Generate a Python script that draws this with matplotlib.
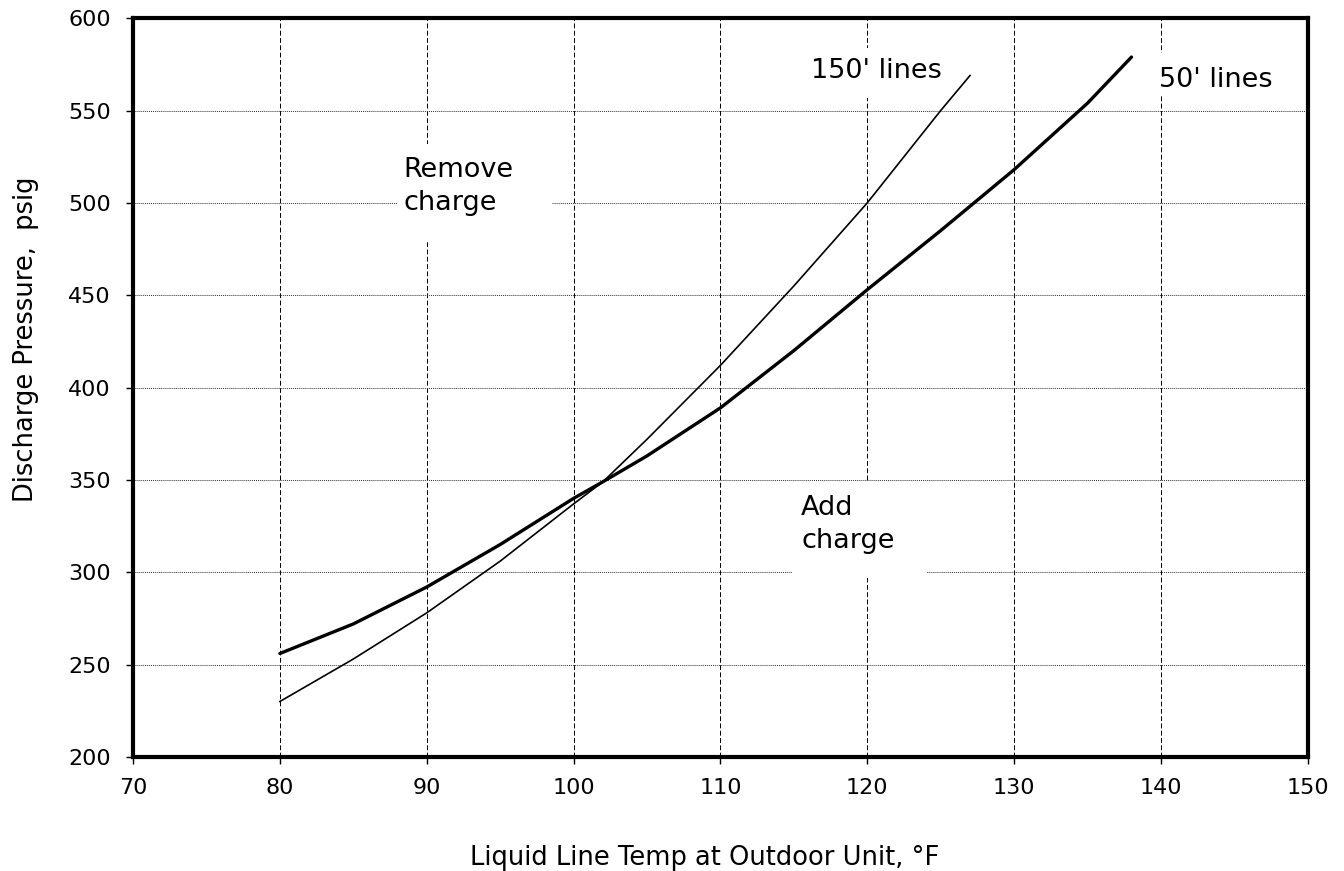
import matplotlib
matplotlib.use("Agg")
import matplotlib.pyplot as plt
from matplotlib.patches import Rectangle

# liquid line temp (F) vs discharge pressure (psig)
temp_50 = [80, 85, 90, 95, 100, 102, 105, 110, 115, 120, 125, 130, 135, 138]
psig_50 = [256, 272, 292, 315, 340, 349, 363, 389, 420, 453, 485, 518, 554, 579]

temp_150 = [80, 85, 90, 95, 100, 102, 105, 110, 115, 120, 125, 127]
psig_150 = [230, 253, 278, 306, 337, 349, 372, 412, 455, 500, 550, 569]

x_ticks = [70, 80, 90, 100, 110, 120, 130, 140, 150]
y_ticks = [200, 250, 300, 350, 400, 450, 500, 550, 600]

plt.rcParams['font.family'] = ['DejaVu Sans']

fig = plt.figure(figsize=(13.44, 8.71), dpi=100)
ax = fig.add_axes([0.099, 0.131, 0.874, 0.848])

ax.plot(temp_50, psig_50, color='black', lw=2.4, solid_capstyle='round',
        solid_joinstyle='round', zorder=3)
ax.plot(temp_150, psig_150, color='black', lw=1.2, solid_joinstyle='round', zorder=3)

ax.set_xlim(70, 150)
ax.set_ylim(200, 600)
ax.set_xticks(x_ticks)
ax.set_yticks(y_ticks)
ax.tick_params(direction='out', length=5, width=1, labelsize=16)
ax.tick_params(axis='x', pad=10)
ax.tick_params(axis='y', pad=11)

# grid: dashed verticals, dotted horizontals
ax.xaxis.grid(True, linestyle=(0, (5, 2.5)), color='black', lw=0.7)
ax.yaxis.grid(True, linestyle=(0, (1, 1)), color='#333333', lw=0.7)
ax.set_axisbelow(True)

for s in ax.spines.values():
    s.set_linewidth(3)
    s.set_zorder(4)

fig.text(0.5246, 0.0069, 'Liquid Line Temp at Outdoor Unit, °F', fontsize=18.5,
         ha='center', va='baseline')
fig.text(0.0197, 0.611, 'Discharge Pressure,  psig', fontsize=18.5,
         ha='center', va='center', rotation=90)

# white boxes behind the annotations (hide the grid there)
def white_box(x0, x1, y0, y1):
    ax.add_patch(Rectangle((x0, y0), x1 - x0, y1 - y0, facecolor='white',
                           edgecolor='none', zorder=1.5))

white_box(115.6, 125.6, 557, 584)
white_box(139.4, 148.4, 558, 581)
white_box(88.0, 98.5, 479, 532)
white_box(114.9, 124.1, 297, 349)

fs = 19.5
ax.text(116.15, 567.4, "150' lines", fontsize=fs, va='baseline', zorder=2)
ax.text(139.9, 562.7, "50' lines", fontsize=fs, va='baseline', zorder=2)
ax.text(88.4, 514.0, "Remove", fontsize=fs, va='baseline', zorder=2)
ax.text(88.4, 496.0, "charge", fontsize=fs, va='baseline', zorder=2)
ax.text(115.5, 331.0, "Add", fontsize=fs, va='baseline', zorder=2)
ax.text(115.5, 312.9, "charge", fontsize=fs, va='baseline', zorder=2)

fig.savefig('out.png', dpi=100)
